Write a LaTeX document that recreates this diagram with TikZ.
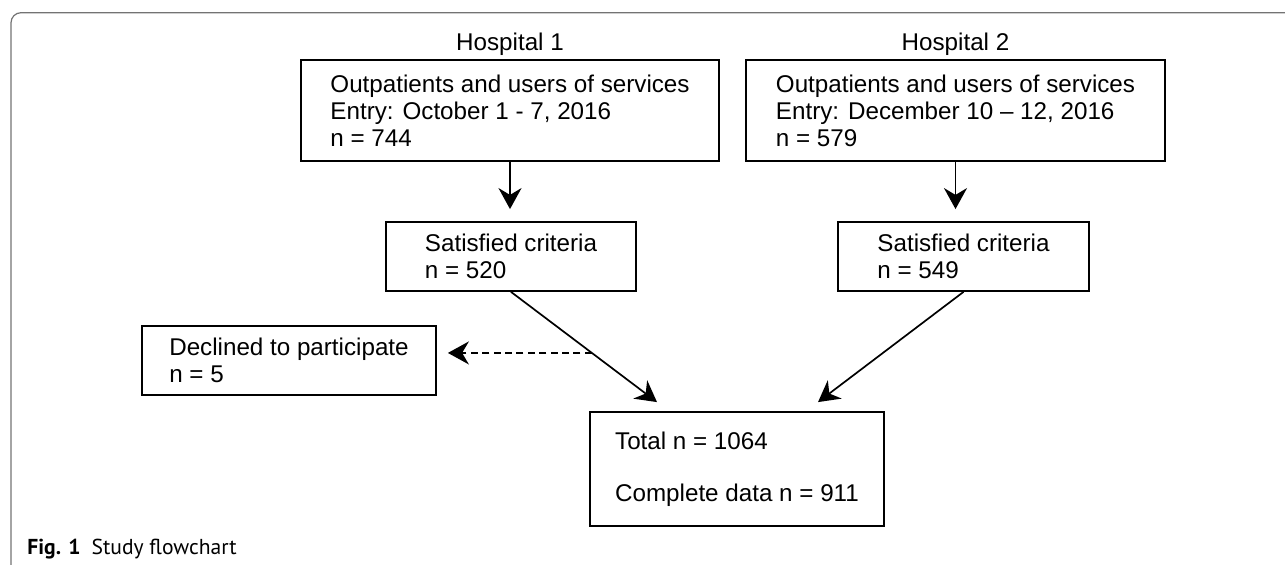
\documentclass[tikz,border=0pt]{standalone}
\usepackage{fontspec}
\setmainfont{Liberation Sans}
\newfontfamily\capfont{PT Sans}
\usetikzlibrary{arrows.meta}

\begin{document}
\begin{tikzpicture}[x=0.5pt, y=-0.5pt,
        box/.style={draw, line width=0.9pt, align=left, inner sep=0pt,
            font=\fontsize{12.1}{13.5}\selectfont},
        every label/.style={font=\fontsize{12.1}{13.5}\selectfont},
        flow/.style={line width=0.85pt, -{Stealth[length=10.5pt, width=11.5pt]}},
        frame/.style={draw=black!55, line width=0.6pt, rounded corners=5pt}]
            \useasboundingbox (0,0) rectangle (1285,565);
            \draw [frame] (11,565) -- (11,12.7) -- (1285,12.7);
            \node [box, minimum width=209pt, minimum height=50.5pt,
                label={[label distance=-1.5pt]above:Hospital 1}] (hosp1) at (510,110.5)
                {Outpatients and users of services\\Entry: October 1 - 7, 2016\\n = 744};
            \node [box, minimum width=209.5pt, minimum height=50.5pt,
                label={[label distance=-1.5pt]above:Hospital 2}] (hosp2) at (955.5,110.5)
                {Outpatients and users of services\\Entry: December 10 – 12, 2016\\n = 579};
            \node [box, minimum width=125pt, minimum height=34.5pt] (sat1) at (511,256.5)
                {Satisfied criteria\\n = 520};
            \node [box, minimum width=125.5pt, minimum height=34.5pt] (sat2) at (963.5,256.5)
                {Satisfied criteria\\n = 549};
            \node [box, minimum width=147pt, minimum height=34.5pt] (decl) at (289,360.5)
                {Declined to participate\\n = 5};
            \node [box, minimum width=147pt, minimum height=57pt] (total) at (737,469)
                {Total n = 1064\\[12.5pt]Complete data n = 911};
            \draw [flow, shorten >=6pt] (hosp1.south) -- (hosp1.south |- sat1.north);
            \draw [flow, shorten >=6pt] (hosp2.south) -- (hosp2.south |- sat2.north);
            \draw [flow] (sat1.south) -- coordinate [pos=0.554] (split)
                ([xshift=-40pt, yshift=4.5pt]total.north);
            \draw [flow] (sat2.south) -- ([xshift=40.5pt, yshift=4.5pt]total.north);
            \draw [flow, dash pattern=on 3.5pt off 2.2pt, shorten >=5.5pt] (split) -- (split -| decl.east);
            \node [anchor=base west, inner sep=0pt, font=\capfont\fontsize{10.8}{13}\selectfont]
                (caption) at (27,555) {\textbf{Fig. 1}\hspace{5.5pt}Study flowchart};
        \end{tikzpicture}
\end{document}
